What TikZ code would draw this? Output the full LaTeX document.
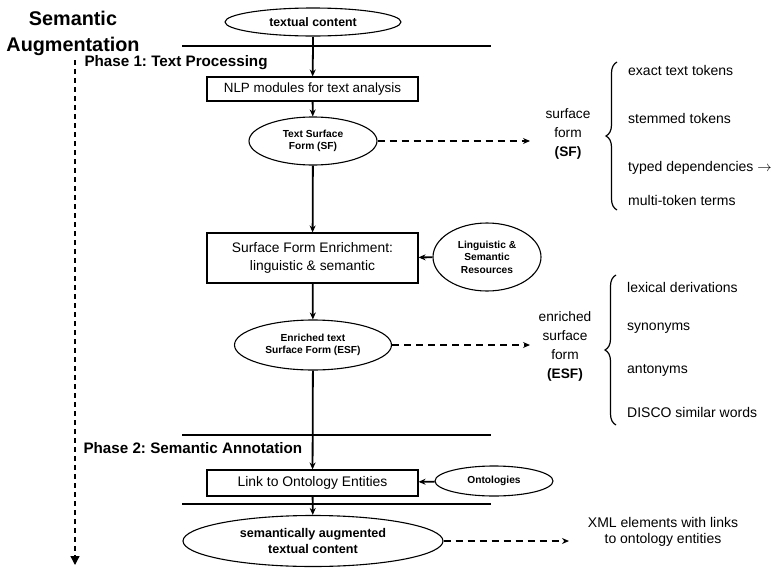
\documentclass[tikz,border=0pt]{standalone}
\usepackage{fontspec}
\setmainfont{Liberation Sans}
\usetikzlibrary{shapes.geometric,arrows.meta,decorations.pathreplacing}

\begin{document}
\frenchspacing
\begin{tikzpicture}[x=1pt,y=-1pt,
  oval/.style={ellipse,draw,line width=1.1pt,inner sep=0pt,align=center,font=\bfseries\fontsize{10.2}{12.5}\selectfont},
  stepbox/.style={rectangle,draw,line width=1.1pt,inner sep=0pt,align=center,font=\fontsize{13.4}{16}\selectfont},
  flow/.style={line width=1.8pt,-{Stealth[length=7pt,width=6pt]}},
  link/.style={line width=1.7pt,dash pattern=on 7pt off 5pt,-{Stealth[length=7pt,width=6pt]}},
  bar/.style={line width=1.8pt},
  phase/.style={anchor=west,font=\bfseries\fontsize{15.2}{18}\selectfont},
  side/.style={align=center,font=\fontsize{13.7}{19}\selectfont},
  item/.style={anchor=west,inner sep=0pt,font=\fontsize{14}{16}\selectfont},
  curly/.style={line width=1.2pt,decorate,decoration={brace,amplitude=11pt,aspect=0.5}}
]
\useasboundingbox (0,0) rectangle (772,568);

% title and overall direction
\node[anchor=center,font=\bfseries\fontsize{19.8}{26}\selectfont,align=center] (title) at (73,33) {Semantic\\Augmentation};
\coordinate (dtop) at (75,60);
\coordinate (dbot) at (75,565);
\draw[line width=1.3pt,dash pattern=on 5pt off 4pt,-{Triangle[length=9pt,width=9pt]}] (dtop) -- (dbot);

% horizontal separators
\coordinate (s1l) at (182,46);  \coordinate (s1r) at (491,46);
\coordinate (s2l) at (182,435); \coordinate (s2r) at (491,435);
\coordinate (s3l) at (182,504); \coordinate (s3r) at (491,504);
\draw[bar] (s1l) -- (s1r);
\draw[bar] (s2l) -- (s2r);
\draw[bar] (s3l) -- (s3r);
\coordinate (c1) at (313,46);

\node[phase] (ph1) at (81,63) {Phase 1: Text Processing};
\node[phase] (ph2) at (80,448) {Phase 2: Semantic Annotation};

% main column
\node[oval,minimum width=176pt,minimum height=28pt,font=\bfseries\fontsize{12.3}{14}\selectfont] (tc) at (313,22) {textual content};
\node[stepbox,minimum width=211pt,minimum height=24pt] (nlp) at (312.5,89) {NLP modules for text analysis};
\node[oval,minimum width=128pt,minimum height=48pt] (sf) at (313,141) {Text Surface\\Form (SF)};
\node[stepbox,minimum width=211pt,minimum height=50pt,font=\fontsize{13.8}{18}\selectfont] (sfe) at (312.5,258) {Surface Form Enrichment:\\linguistic \& semantic};
\node[oval,minimum width=108pt,minimum height=68pt] (lsr) at (487,257) {Linguistic \&\\Semantic\\Resources};
\node[oval,minimum width=157pt,minimum height=50pt] (esf) at (313,345) {Enriched text\\Surface Form (ESF)};
\node[stepbox,minimum width=211pt,minimum height=26pt,font=\fontsize{13.9}{16}\selectfont] (lto) at (312.5,483) {Link to Ontology Entities};
\node[oval,minimum width=118pt,minimum height=30pt] (ont) at (494,481) {Ontologies};
\node[oval,minimum width=260pt,minimum height=51pt,font=\bfseries\fontsize{12.6}{16}\selectfont] (sat) at (313,541) {semantically augmented\\textual content};

\draw[line width=1.8pt] (tc) -- (c1);
\draw[flow] (c1) -- (nlp);
\draw[flow] (nlp) -- (sf);
\draw[flow] (sf) -- (sfe);
\draw[flow] (lsr) -- (sfe);
\draw[flow] (sfe) -- (esf);
\draw[flow] (esf) -- (lto);
\draw[flow] (ont) -- (lto);
\draw[flow] (lto) -- (sat);

% outputs on the right
\node[side] (sfl) at (568,134) {surface\\form\\\textbf{(SF)}};
\node[side] (esfl) at (565,346) {enriched\\surface\\form\\\textbf{(ESF)}};
\node[side,font=\fontsize{14}{16}\selectfont] (xml) at (663,532) {XML elements with links\\to ontology entities};

\coordinate (sfa) at (530,141);
\coordinate (esfa) at (530,345);
\coordinate (xmla) at (569,541);
\draw[link] (sf) -- (sfa);
\draw[link] (esf) -- (esfa);
\draw[link] (sat) -- (xmla);

% surface form variants
\coordinate (b1b) at (617,210);
\coordinate (b1t) at (617,62);
\draw[curly] (b1b) -- (b1t);
\node[item] (i1) at (628,70) {exact text tokens};
\node[item] (i2) at (628,118) {stemmed tokens};
\node[item] (i3) at (628,168) {typed dependencies $\rightarrow$};
\node[item] (i4) at (628,200) {multi-token terms};

% enrichment variants
\coordinate (b2b) at (616,425);
\coordinate (b2t) at (616,275);
\draw[curly] (b2b) -- (b2t);
\node[item] (e1) at (627,287) {lexical derivations};
\node[item] (e2) at (627,328) {synonyms};
\node[item] (e3) at (627,370) {antonyms};
\node[item] (e4) at (627,412) {DISCO similar words};
\end{tikzpicture}
\end{document}
